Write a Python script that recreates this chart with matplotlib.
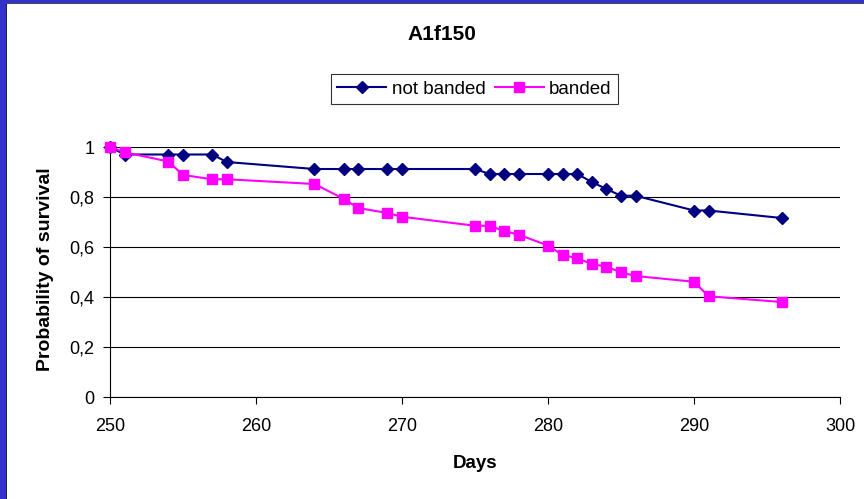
# -*- coding:utf-8 -*-
# Survival curves A1f150, banded vs not banded

from matplotlib import pyplot as plt
from matplotlib.patches import Rectangle
from matplotlib.ticker import FuncFormatter

days = [250, 251, 254, 255, 257, 258, 264, 266, 267, 269, 270, 275, 276,
        277, 278, 280, 281, 282, 283, 284, 285, 286, 290, 291, 296]
not_banded = [1.0, 0.97, 0.97, 0.97, 0.97, 0.94, 0.912, 0.912, 0.912, 0.912,
              0.912, 0.912, 0.892, 0.892, 0.892, 0.892, 0.892, 0.892, 0.86,
              0.832, 0.805, 0.805, 0.746, 0.746, 0.716]
banded = [1.0, 0.979, 0.942, 0.888, 0.871, 0.871, 0.852, 0.793, 0.756, 0.736,
          0.721, 0.685, 0.685, 0.664, 0.649, 0.606, 0.568, 0.555, 0.532,
          0.521, 0.499, 0.484, 0.461, 0.403, 0.380]
x_ticks = [250, 260, 270, 280, 290, 300]
y_ticks = [0, 0.2, 0.4, 0.6, 0.8, 1.0]

plt.rcParams['font.family'] = ['Liberation Sans', 'DejaVu Sans']

W, H = 864, 499
fig = plt.figure(figsize=(W / 100, H / 100), dpi=100)
fig.patch.set_facecolor('white')

# blue frame on the left and top edges
blue = '#3333cc'
fig.patches.append(Rectangle((0, 0), 6 / W, 1, transform=fig.transFigure,
                             facecolor=blue, edgecolor='none', zorder=0))
fig.patches.append(Rectangle((0, 1 - 3 / H), 1, 3 / H, transform=fig.transFigure,
                             facecolor=blue, edgecolor='none', zorder=0))
fig.patches.append(Rectangle((6 / W, 0), 1 / W, 1 - 3 / H, transform=fig.transFigure,
                             facecolor='#222244', edgecolor='none', zorder=0))
fig.patches.append(Rectangle((6 / W, 1 - 4 / H), 1 - 6 / W, 1 / H,
                             transform=fig.transFigure,
                             facecolor='#444466', edgecolor='none', zorder=0))

ax = fig.add_axes([110 / W, 1 - 397 / H, 730 / W, 250 / H])
ax.plot(days, not_banded, color='#000080', lw=1.5, marker='D', ms=6.5,
        label='not banded', clip_on=False, zorder=3)
ax.plot(days, banded, color='#ff00ff', lw=1.5, marker='s', ms=7.5,
        label='banded', clip_on=False, zorder=4)

ax.set_xlim(250, 300)
ax.set_ylim(0, 1)
ax.set_xticks(x_ticks)
ax.set_yticks(y_ticks)
ax.yaxis.set_major_formatter(
    FuncFormatter(lambda v, p: ('%g' % round(v, 1)).replace('.', ',')))
ax.tick_params(direction='out', length=5, width=0.8, colors='black',
               labelsize=13)
ax.tick_params(axis='x', pad=10)
ax.tick_params(axis='y', pad=6)
ax.grid(axis='y', color='black', lw=0.8)
ax.set_axisbelow(True)
for s in ['top', 'right']:
    ax.spines[s].set_visible(False)
for s in ['left', 'bottom']:
    ax.spines[s].set_linewidth(0.8)
    ax.spines[s].set_color('black')

ax.set_xlabel('Days', fontweight='bold', fontsize=13.5)
ax.xaxis.set_label_coords(0.5, (397 - 463) / 250)
ax.xaxis.label.set_va('center')
ax.set_ylabel('Probability of survival', fontweight='bold', fontsize=14)
ax.yaxis.set_label_coords((45 - 110) / 730, (397 - 269) / 250)
ax.yaxis.label.set_va('center')

fig.text(442 / W, 1 - 34.5 / H, 'A1f150', ha='center', va='center',
         fontweight='bold', fontsize=15)

leg = fig.legend(loc='center', bbox_to_anchor=(474.5 / W, 1 - 89 / H),
                 ncol=2, fontsize=13.5, frameon=True, fancybox=False,
                 edgecolor='black', handlelength=2.6, handletextpad=0.3,
                 columnspacing=0.5, borderpad=0.35, borderaxespad=0)
leg.get_frame().set_linewidth(0.8)

fig.savefig('out.png', dpi=100)
